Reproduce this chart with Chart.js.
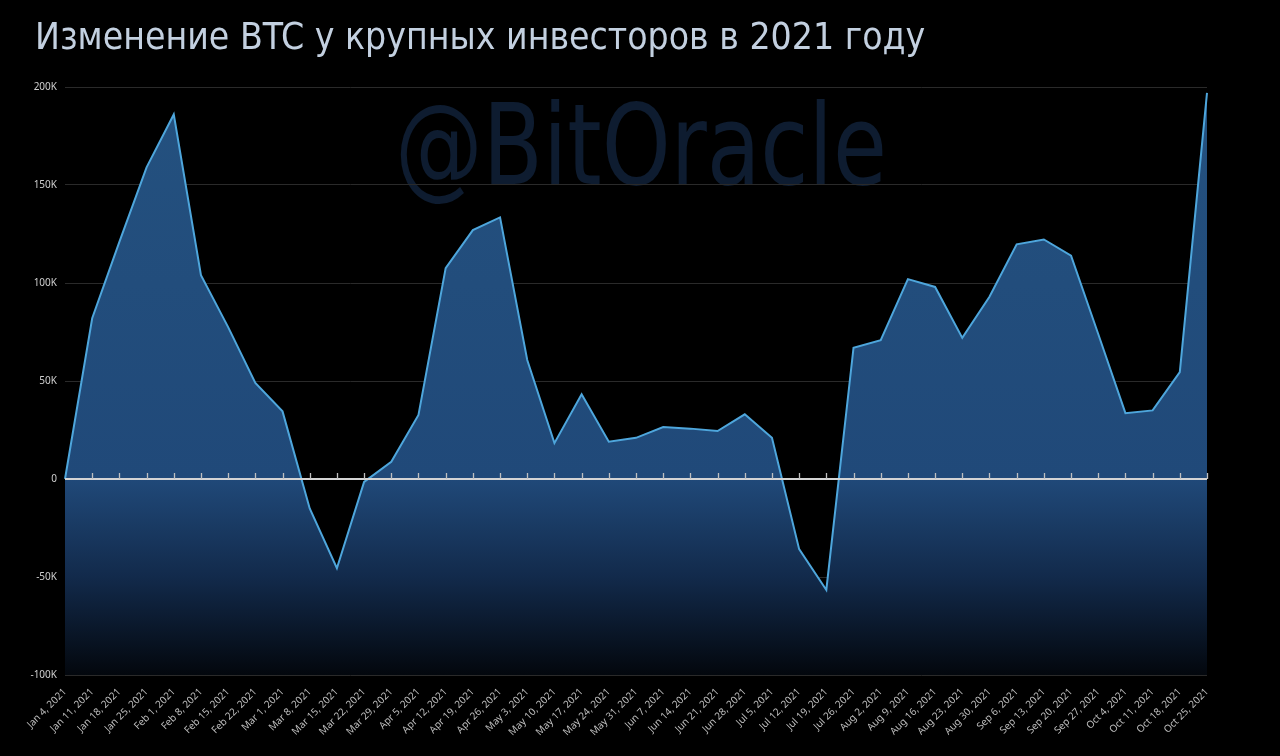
<!DOCTYPE html>
<html>
<head>
<meta charset="utf-8">
<script src="https://cdn.jsdelivr.net/npm/chart.js@4.4.1/dist/chart.umd.min.js"></script>
<style>
  html, body { margin: 0; padding: 0; background: #000; }
  #wrap { width: 1280px; height: 756px; position: relative; }
</style>
</head>
<body>
<div id="wrap"><canvas id="c"></canvas></div>
<script>
const titleText = 'Изменение BTC у крупных инвесторов в 2021 году';
const watermarkText = '@BitOracle';

const weekLabels = [
  'Jan 4, 2021','Jan 11, 2021','Jan 18, 2021','Jan 25, 2021',
  'Feb 1, 2021','Feb 8, 2021','Feb 15, 2021','Feb 22, 2021',
  'Mar 1, 2021','Mar 8, 2021','Mar 15, 2021','Mar 22, 2021','Mar 29, 2021',
  'Apr 5, 2021','Apr 12, 2021','Apr 19, 2021','Apr 26, 2021',
  'May 3, 2021','May 10, 2021','May 17, 2021','May 24, 2021','May 31, 2021',
  'Jun 7, 2021','Jun 14, 2021','Jun 21, 2021','Jun 28, 2021',
  'Jul 5, 2021','Jul 12, 2021','Jul 19, 2021','Jul 26, 2021',
  'Aug 2, 2021','Aug 9, 2021','Aug 16, 2021','Aug 23, 2021','Aug 30, 2021',
  'Sep 6, 2021','Sep 13, 2021','Sep 20, 2021','Sep 27, 2021',
  'Oct 4, 2021','Oct 11, 2021','Oct 18, 2021','Oct 25, 2021'
];

const btcChange = [
  0, 82000, 121000, 159000,
  186000, 104000, 77500, 49000,
  34500, -15000, -45500, -1500, 8800,
  32700, 107600, 127000, 133500,
  60700, 18300, 43200, 19000, 21000,
  26500, 25700, 24500, 33000,
  21000, -35800, -56600, 67000,
  70800, 102000, 98000, 72000, 93000,
  119700, 122200, 114000, 74000,
  33600, 35000, 54500, 197000
];

const yMin = -100000;
const yMax = 200000;
const yStep = 50000;

const bgPlugin = {
  id: 'bgWatermark',
  afterLayout(chart) {
    if (chart.titleBlock) chart.titleBlock.left = 35;
  },
  beforeDraw(chart) {
    const ctx = chart.ctx;
    ctx.save();
    ctx.fillStyle = '#000';
    ctx.fillRect(0, 0, chart.width, chart.height);
    ctx.font = '112px "Liberation Sans Narrow", "DejaVu Sans Condensed", "Roboto", sans-serif';
    ctx.fillStyle = '#0e1c30';
    ctx.textAlign = 'center';
    ctx.textBaseline = 'alphabetic';
    ctx.translate(641, 184);
    ctx.scale(0.87, 1);
    ctx.fillText(watermarkText, 0, 0);
    ctx.restore();
  }
};

const zeroLinePlugin = {
  id: 'zeroLine',
  afterDatasetsDraw(chart) {
    const { ctx, chartArea, scales } = chart;
    const y0 = scales.y.getPixelForValue(0);
    ctx.save();
    ctx.strokeStyle = '#d4d4d4';
    ctx.lineWidth = 2;
    ctx.beginPath();
    ctx.moveTo(chartArea.left, y0);
    ctx.lineTo(chartArea.right, y0);
    ctx.stroke();
    ctx.strokeStyle = '#c0c0c0';
    ctx.lineWidth = 1.3;
    for (let i = 1; i < weekLabels.length; i++) {
      const x = Math.round(scales.x.getPixelForValue(i)) + 0.5;
      ctx.beginPath();
      ctx.moveTo(x, y0);
      ctx.lineTo(x, y0 - 6);
      ctx.stroke();
    }
    ctx.restore();
  }
};

function areaGradient(context) {
  const chart = context.chart;
  const area = chart.chartArea;
  if (!area) return '#23507f';
  const yScale = chart.scales.y;
  const g = chart.ctx.createLinearGradient(0, area.top, 0, area.bottom);
  const zf = (yScale.getPixelForValue(0) - area.top) / (area.bottom - area.top);
  g.addColorStop(0, '#24517f');
  g.addColorStop(zf, '#204979');
  g.addColorStop(zf + (1 - zf) * 0.5, '#122a4b');
  g.addColorStop(1, '#03070d');
  return g;
}

new Chart(document.getElementById('c'), {
  type: 'line',
  data: {
    labels: weekLabels,
    datasets: [{
      data: btcChange,
      borderColor: '#4ea6dc',
      borderWidth: 2,
      pointRadius: 0,
      tension: 0,
      fill: 'start',
      backgroundColor: areaGradient
    }]
  },
  options: {
    responsive: true,
    maintainAspectRatio: false,
    animation: false,
    layout: { padding: { left: 0, right: 73, top: 0, bottom: 0 } },
    plugins: {
      legend: { display: false },
      tooltip: { enabled: false },
      title: {
        display: true,
        text: titleText,
        align: 'start',
        color: '#c3d0e0',
        font: { family: '"Liberation Sans Narrow", "DejaVu Sans Condensed", "Roboto", sans-serif', size: 37, weight: 'normal', lineHeight: 1.2 },
        padding: { top: 17, bottom: 25.6 }
      }
    },
    scales: {
      x: {
        grid: { display: false },
        border: { display: false },
        ticks: {
          color: '#bdbdbd',
          font: { family: '"Noto Sans", sans-serif', size: 10 },
          autoSkip: false,
          minRotation: 45,
          maxRotation: 45,
          padding: 3
        },
        afterFit(scale) { scale.height = 81; }
      },
      y: {
        min: yMin,
        max: yMax,
        border: { display: false },
        grid: {
          color: (c) => c.tick && c.tick.value === 0 ? 'rgba(0,0,0,0)' : '#2a2a2a',
          drawTicks: false,
          lineWidth: 1
        },
        ticks: {
          stepSize: yStep,
          color: '#cfcfcf',
          font: { family: '"Noto Sans", sans-serif', size: 10 },
          padding: 8,
          callback: (v) => v === 0 ? '0' : (v / 1000) + 'K'
        },
        afterFit(scale) { scale.width = 65; }
      }
    }
  },
  plugins: [bgPlugin, zeroLinePlugin]
});
</script>
</body>
</html>
